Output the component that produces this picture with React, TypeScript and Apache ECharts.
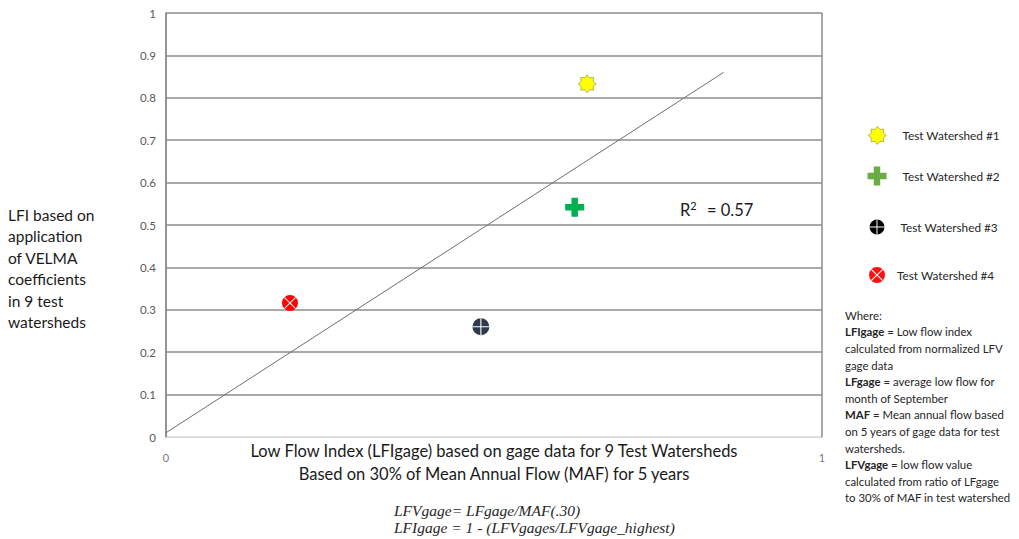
import React, { useEffect, useRef } from "react";
import * as echarts from "echarts";

// ---- data ----
const watersheds = ["Test Watershed #1", "Test Watershed #2", "Test Watershed #3", "Test Watershed #4"];
const lfiGage = [0.642, 0.623, 0.48, 0.189];
const lfiVelma = [0.833, 0.542, 0.26, 0.316];
const trendX = [0, 0.85];
const trendY = [0.01, 0.86];
const rSquared = "0.57";

const yTitleLines = ["LFI based on", "application", "of VELMA", "coefficients", "in 9 test", "watersheds"];
const xTitleLines = [
  "Low Flow Index (LFIgage) based on gage data for 9 Test Watersheds",
  "Based on 30% of Mean Annual Flow (MAF) for 5 years",
];
const formulaLines = ["LFVgage= LFgage/MAF(.30)", "LFIgage = 1 - (LFVgages/LFVgage_highest)"];
const noteLines = [
  "Where:",
  "{b|LFIgage} = Low flow index",
  "calculated from normalized LFV",
  "gage data",
  "{b|LFgage} = average low flow for",
  "month of September",
  "{b|MAF} = Mean annual flow based",
  "on 5 years of gage data for test",
  "watersheds.",
  "{b|LFVgage} = low flow value",
  "calculated from ratio of LFgage",
  "to 30% of MAF in test watershed",
];

// ---- symbol shapes ----
const starPath = (() => {
  let d = "";
  for (let i = 0; i < 16; i++) {
    const r = i % 2 ? 7.2 : 10;
    const a = -Math.PI / 2 + (i * Math.PI) / 8;
    d += (i ? "L" : "M") + (10 + r * Math.cos(a)).toFixed(2) + "," + (10 + r * Math.sin(a)).toFixed(2);
  }
  return "path://" + d + "Z";
})();
const crossPath = "path://M6.6,0 L13.4,0 L13.4,6.6 L20,6.6 L20,13.4 L13.4,13.4 L13.4,20 L6.6,20 L6.6,13.4 L0,13.4 L0,6.6 L6.6,6.6 Z";
const circleD = "M0,10 A10,10 0 1,1 20,10 A10,10 0 1,1 0,10 Z";
const plusHole: [number, number][] = [
  [0.3, 9.35], [0.3, 10.65], [9.35, 10.65], [9.35, 19.7], [10.65, 19.7], [10.65, 10.65],
  [19.7, 10.65], [19.7, 9.35], [10.65, 9.35], [10.65, 0.3], [9.35, 0.3], [9.35, 9.35],
];
const holeD = (angle: number) => {
  const c = Math.cos(angle);
  const s = Math.sin(angle);
  return (
    plusHole
      .map(([x, y], i) => {
        const dx = x - 10;
        const dy = y - 10;
        return (i ? "L" : "M") + (10 + dx * c - dy * s).toFixed(2) + "," + (10 + dx * s + dy * c).toFixed(2);
      })
      .join(" ") + " Z"
  );
};
const circlePlusPath = "path://" + circleD + " " + holeD(0);
const circleXPath = "path://" + circleD + " " + holeD(Math.PI / 4);

const symbols = [starPath, crossPath, circlePlusPath, circleXPath];
const symbolSizes = [18, 19, 17, 16];
const colors = ["#ffff00", "#00b050", "#2f3b4c", "#ff0000"];
const borders = ["#a6a640", "#00b050", "#2f3b4c", "#ff0000"];
const legendColors = ["#ffff00", "#6aac46", "#000000", "#ff1010"];
const legendCenters = [135, 176, 227, 275];
const legendSizes = [18, 19, 15, 16];

const FONT = "Lato";

export default function App() {
  const ref = useRef<HTMLDivElement>(null);
  useEffect(() => {
    if (!ref.current) return;
    const chart = echarts.init(ref.current, undefined, { renderer: "svg" });
    const grid = "#8c8c8c";
    const splitColors = ["#d9d9d9"];
    for (let i = 0; i < 10; i++) splitColors.push(grid);

    const scatterSeries = watersheds.map((name, i) => ({
      name,
      type: "scatter",
      data: [[lfiGage[i], lfiVelma[i]]],
      symbol: symbols[i],
      symbolSize: symbolSizes[i],
      itemStyle: { color: colors[i], borderColor: borders[i], borderWidth: i === 0 ? 0.8 : 0, opacity: 1 },
      z: 5,
    }));

    const legends = watersheds.map((name, i) => ({
      data: [
        {
          name,
          icon: symbols[i],
          itemStyle: { color: legendColors[i], borderColor: i === 0 ? "#a6a640" : legendColors[i], borderWidth: i === 0 ? 0.8 : 0 },
        },
      ],
      left: 877 - legendSizes[i] / 2,
      top: legendCenters[i] - legendSizes[i] / 2,
      orient: "vertical",
      padding: 0,
      itemWidth: legendSizes[i],
      itemHeight: legendSizes[i],
      selectedMode: false,
      textStyle: { fontFamily: FONT, fontSize: 11.8, color: "#262626", padding: [0, 0, 0, i === 3 ? 7 : 11] },
    }));

    chart.setOption({
      animation: false,
      textStyle: { fontFamily: FONT },
      grid: { left: 166, right: 197, top: 13, bottom: 102 },
      legend: legends,
      xAxis: {
        type: "value",
        min: 0,
        max: 1,
        interval: 1,
        axisLine: { show: true, lineStyle: { color: "#d9d9d9", width: 1 } },
        axisTick: { show: false },
        splitLine: { show: true, lineStyle: { color: grid, width: 1.5 } },
        axisLabel: { color: "#7a7a7a", fontSize: 11, margin: 15, fontFamily: FONT },
        name: xTitleLines.join("\n"),
        nameLocation: "middle",
        nameGap: 2,
        nameMoveOverlap: false,
        nameTextStyle: { fontSize: 16.5, lineHeight: 23, color: "#1a1a1a", fontFamily: FONT, verticalAlign: "top" },
      },
      yAxis: {
        type: "value",
        min: 0,
        max: 1,
        interval: 0.1,
        axisLine: { show: true, lineStyle: { color: grid, width: 1.5 } },
        axisTick: { show: false },
        splitLine: { show: true, lineStyle: { color: splitColors, width: 1.5 } },
        axisLabel: { color: "#595959", fontSize: 11.5, margin: 10, fontFamily: FONT },
      },
      series: [
        {
          name: "trend",
          type: "line",
          data: trendX.map((x, i) => [x, trendY[i]]),
          symbol: "none",
          lineStyle: { color: "#6e6e6e", width: 1 },
          z: 3,
        },
        ...scatterSeries,
      ],
      graphic: [
        {
          type: "text",
          left: 8,
          top: 204,
          style: { text: yTitleLines.join("\n"), fontFamily: FONT, fontSize: 15.5, lineHeight: 21.5, fill: "#1a1a1a" },
        },
        {
          type: "text",
          left: 680,
          top: 200,
          style: {
            text: "R{sup|2} = " + rSquared,
            fontFamily: FONT,
            fontSize: 16.5,
            fill: "#1a1a1a",
            rich: { sup: { fontSize: 11, verticalAlign: "bottom", padding: [0, 6, 8, 0], fontFamily: FONT, fill: "#1a1a1a" } },
          },
        },
        {
          type: "text",
          left: 845,
          top: 307,
          style: {
            text: noteLines.join("\n"),
            fontFamily: FONT,
            fontSize: 11.4,
            lineHeight: 16.6,
            fill: "#262626",
            rich: { b: { fontWeight: "bold", fontFamily: FONT, fontSize: 11.4, lineHeight: 16.6, fill: "#262626" } },
          },
        },
        {
          type: "text",
          left: 394,
          top: 502,
          style: {
            text: formulaLines.join("\n"),
            fontFamily: "Liberation Serif",
            fontStyle: "italic",
            fontSize: 15.5,
            lineHeight: 17,
            fill: "#262626",
          },
        },
      ],
    });
    return () => chart.dispose();
  }, []);
  return <div ref={ref} style={{ position: "fixed", left: 0, top: 0, width: 1019, height: 539, background: "#fff" }} />;
}
